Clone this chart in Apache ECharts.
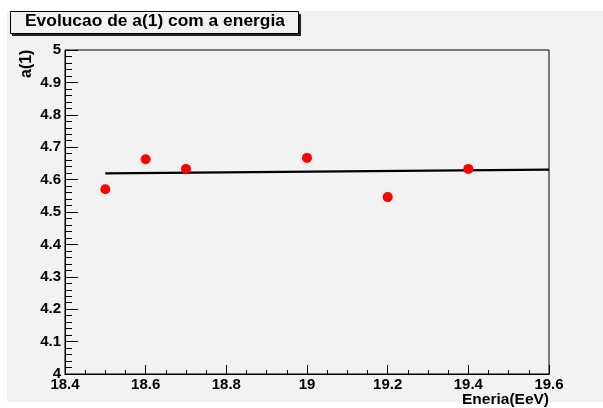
<!DOCTYPE html>
<html>
<head>
<meta charset="utf-8">
<script src="https://cdn.jsdelivr.net/npm/echarts@6/dist/echarts.min.js"></script>
<style>
html,body{margin:0;padding:0;background:#fff;}
#c{width:603px;height:408px;}
</style>
</head>
<body>
<div id="c"></div>
<script>
const energy = [18.5, 18.6, 18.7, 19.0, 19.2, 19.4];
const a1 = [4.570, 4.663, 4.633, 4.667, 4.546, 4.633];
const fitX = [18.5, 19.6];
const fitY = [4.619, 4.631];
const titleText = 'Evolucao de a(1) com a energia';
const xTitle = 'Eneria(EeV)';
const yTitle = 'a(1)';

const chart = echarts.init(document.getElementById('c'), null, {renderer: 'canvas'});
const font = 'Liberation Sans, Arial, Helvetica, sans-serif';
const fmt = v => String(+(+v).toFixed(1));

chart.setOption({
  animation: false,
  backgroundColor: '#ffffff',
  graphic: [
    {type: 'rect', z: -10, shape: {x: 7, y: 11, width: 596, height: 391}, style: {fill: '#f2f2f2'}, silent: true},
    {type: 'rect', z: 10, shape: {x: 12, y: 14, width: 289, height: 22}, style: {fill: '#222'}},
    {type: 'rect', z: 11, shape: {x: 10.5, y: 11.5, width: 288, height: 22}, style: {fill: '#f2f2f2', stroke: '#000', lineWidth: 1}},
    {type: 'text', z: 12, left: 25, top: 13, style: {text: titleText, font: 'bold 17.4px ' + font, fill: '#000'}},
    {type: 'text', z: 12, x: 19, y: 78, rotation: Math.PI / 2, style: {text: yTitle, font: 'bold 16px ' + font, fill: '#000', textAlign: 'left', textVerticalAlign: 'top'}},
    {type: 'text', z: 12, x: 549, y: 400, style: {text: xTitle, font: 'bold 15.5px ' + font, fill: '#000', textAlign: 'right', textVerticalAlign: 'middle'}}
  ],
  grid: {left: 65, top: 50, right: 54, bottom: 34, show: true, borderColor: '#000', borderWidth: 1, backgroundColor: 'transparent'},
  xAxis: {
    type: 'value', min: 18.4, max: 19.6, interval: 0.2,
    axisLine: {show: true, onZero: false, lineStyle: {color: '#000', width: 1}},
    axisTick: {show: true, inside: true, length: 9, lineStyle: {color: '#000'}},
    minorTick: {show: true, splitNumber: 4, length: 4, lineStyle: {color: '#000'}},
    splitLine: {show: false},
    axisLabel: {show: true, margin: 3, fontSize: 15, fontWeight: 'bold', fontFamily: font, color: '#000', formatter: fmt, showMinLabel: true, showMaxLabel: true, hideOverlap: false}
  },
  yAxis: {
    type: 'value', min: 4, max: 5, interval: 0.1,
    axisLine: {show: true, onZero: false, lineStyle: {color: '#000', width: 1}},
    axisTick: {show: true, inside: true, length: 13, lineStyle: {color: '#000'}},
    minorTick: {show: true, splitNumber: 5, length: 7, lineStyle: {color: '#000'}},
    splitLine: {show: false},
    axisLabel: {show: true, margin: 4, fontSize: 15, fontWeight: 'bold', fontFamily: font, color: '#000', formatter: fmt, showMinLabel: true, showMaxLabel: true, hideOverlap: false}
  },
  series: [
    {
      type: 'line', data: fitX.map((x, i) => [x, fitY[i]]),
      showSymbol: false, symbol: 'none', lineStyle: {color: '#000', width: 2.2}, z: 3, clip: true
    },
    {
      type: 'scatter', data: energy.map((x, i) => [x, a1[i]]),
      symbol: 'circle', symbolSize: 10, itemStyle: {color: '#ff0000', opacity: 1}, z: 4
    }
  ]
});
</script>
</body>
</html>
